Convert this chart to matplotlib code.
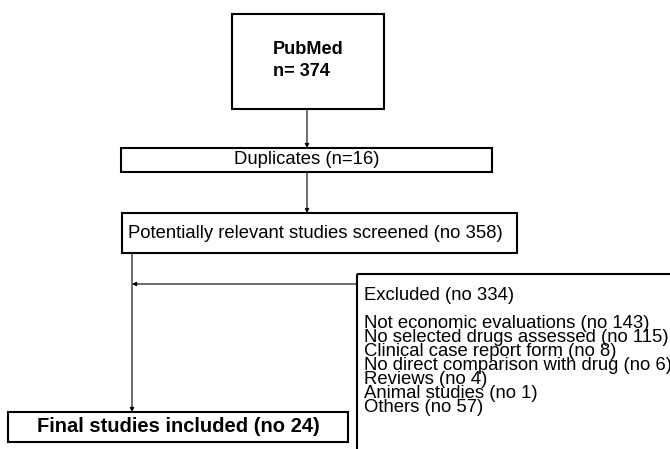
import matplotlib
matplotlib.use('Agg')
from matplotlib import pyplot as plt
from matplotlib.patches import Rectangle

plt.rcParams['font.family'] = ['Liberation Sans', 'DejaVu Sans']

# Flowchart content
source_label = 'PubMed'
source_count = 374
duplicates = 16
screened = 358
excluded_total = 334
exclusion_reasons = ['Not economic evaluations', 'No selected drugs assessed',
                     'Clinical case report form', 'No direct comparison with drug',
                     'Reviews', 'Animal studies', 'Others']
exclusion_counts = [143, 115, 8, 6, 4, 1, 57]
final_included = 24

fs = 13.3

fig = plt.figure(figsize=(6.7, 4.49), dpi=100)
ax = fig.add_axes([0, 0, 1, 1])
ax.set_xlim(0, 670)
ax.set_ylim(449, 0)
ax.axis('off')


def box(x0, y0, x1, y1, lw=1.5):
    ax.add_patch(Rectangle((x0, y0), x1 - x0, y1 - y0, fill=False,
                           edgecolor='black', linewidth=lw, clip_on=False))


def arrow(x0, y0, x1, y1):
    ax.annotate('', xy=(x1, y1), xytext=(x0, y0),
                arrowprops=dict(arrowstyle='-|>', color='black', lw=0.8,
                                mutation_scale=6, shrinkA=0, shrinkB=0))


# PubMed box
box(232, 14, 384, 109)
ax.text(273, 50, source_label, fontsize=13.1, fontweight='bold', va='center', ha='left')
ax.text(273, 72, 'n= %d' % source_count, fontsize=13.1, fontweight='bold', va='center', ha='left')
arrow(307, 109, 307, 148)

# Duplicates
box(121, 148, 492, 172)
ax.text(307, 160, 'Duplicates (n=%d)' % duplicates, fontsize=fs, va='center', ha='center')
arrow(307, 172, 307, 213)

# Screened
box(122, 213, 517, 253)
ax.text(128, 233, 'Potentially relevant studies screened (no %d)' % screened,
        fontsize=fs, va='center', ha='left')

# Main flow down to final
arrow(132, 253, 132, 412)
arrow(357, 284, 132, 284)

# Excluded box (runs past the right and bottom edges)
box(357, 274, 680, 460)
ax.text(364, 295, 'Excluded (no %d)' % excluded_total, fontsize=fs, va='center', ha='left')
for i, (reason, n) in enumerate(zip(exclusion_reasons, exclusion_counts)):
    ax.text(364, 323 + i * 14, '%s (no %d)' % (reason, n), fontsize=fs,
            va='center', ha='left')

# Final
box(8, 412, 348, 442)
ax.text(178, 427, 'Final studies included (no %d)' % final_included, fontsize=14.5,
        fontweight='bold', va='center', ha='center')

fig.savefig('out.png', dpi=100)
